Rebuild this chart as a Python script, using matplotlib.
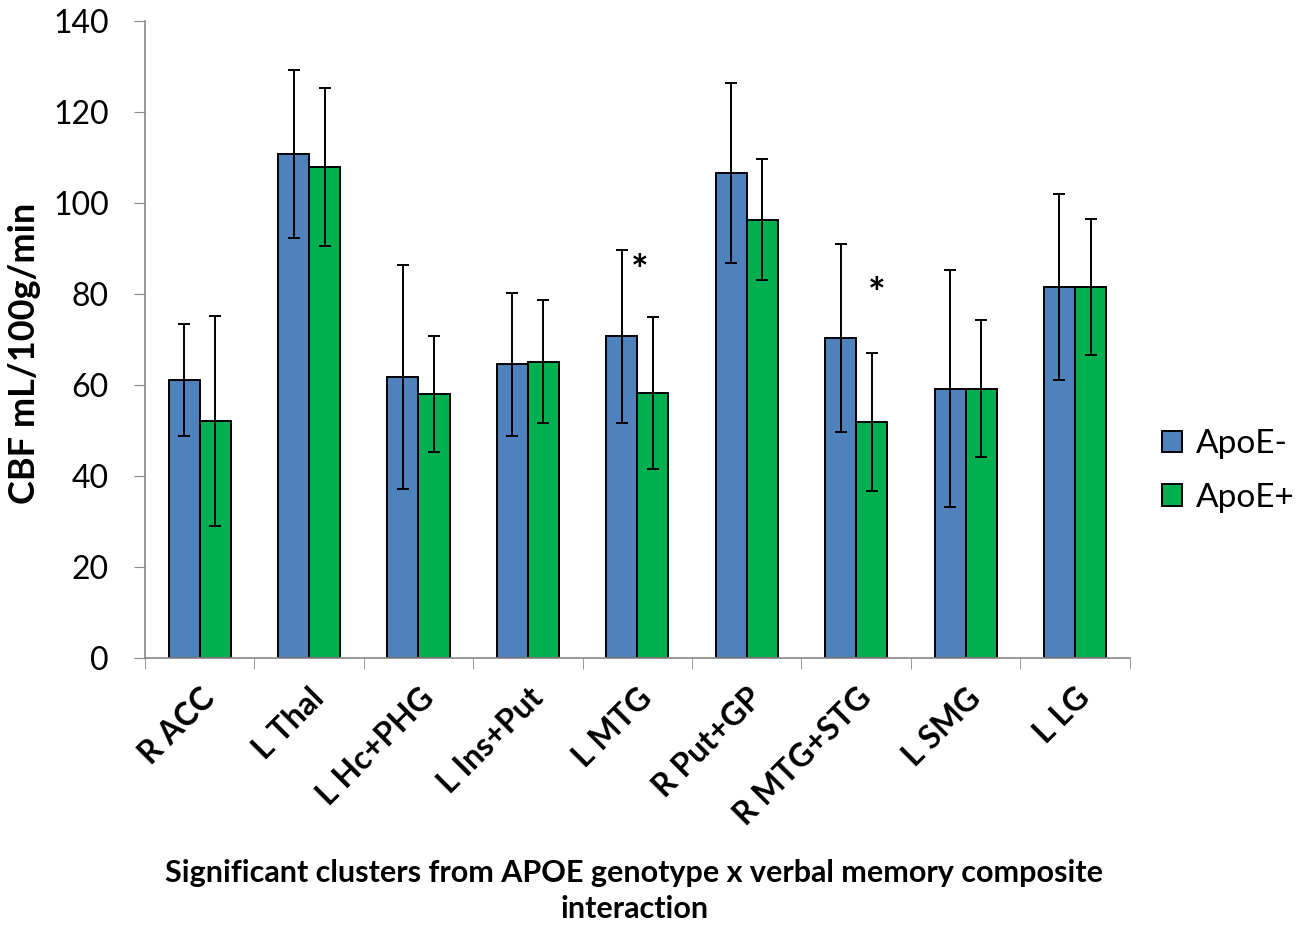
import numpy as np
import matplotlib
matplotlib.use('Agg')
import matplotlib.pyplot as plt

plt.rcParams['font.family'] = ['Lato', 'DejaVu Sans']

regions = ['R ACC', 'L Thal', 'L Hc+PHG', 'L Ins+Put', 'L MTG',
           'R Put+GP', 'R MTG+STG', 'L SMG', 'L LG']
apoe_neg = [61.1, 110.8, 61.7, 64.5, 70.7, 106.5, 70.3, 59.2, 81.5]
apoe_neg_err = [12.4, 18.4, 24.6, 15.8, 19.0, 19.8, 20.7, 26.0, 20.4]
apoe_pos = [52.1, 107.9, 58.0, 65.1, 58.3, 96.3, 51.8, 59.2, 81.5]
apoe_pos_err = [23.0, 17.3, 12.8, 13.5, 16.7, 13.3, 15.2, 15.0, 15.0]
# significance marks: (category index, x offset, y value)
stars = [(4, 0.02, 84.5), (6, 0.19, 79.5)]

fig = plt.figure(figsize=(13, 9.3), dpi=100)
ax = fig.add_axes([0.1115, 0.2925, 0.7575, 0.685])

x = np.arange(len(regions))
w = 0.284
ekw = dict(elinewidth=1.4, capthick=1.4, ecolor='black')
ax.bar(x - w/2, apoe_neg, w, yerr=apoe_neg_err, capsize=4, error_kw=ekw,
       color='#4F81BD', edgecolor='black', linewidth=1.4, label='ApoE-')
ax.bar(x + w/2, apoe_pos, w, yerr=apoe_pos_err, capsize=4, error_kw=ekw,
       color='#00B050', edgecolor='black', linewidth=1.4, label='ApoE+')

for i, dx, yv in stars:
    ax.text(i + dx, yv, '*', ha='center', va='center', fontsize=30, fontweight='bold')

ax.set_xlim(-0.5, len(regions) - 0.5)
ax.set_ylim(0, 140)
ax.set_yticks(np.arange(0, 141, 20))
ax.tick_params(axis='y', labelsize=23, length=8, color='#888888', pad=18)
ax.set_xticks(x)
ax.set_xticklabels(regions, rotation=45, ha='right', rotation_mode='anchor',
                   fontsize=23, fontweight='bold')
ax.tick_params(axis='x', which='major', length=0, pad=18)
ax.set_xticks(np.arange(-0.5, len(regions)), minor=True)
ax.tick_params(axis='x', which='minor', length=8, color='#888888')

for s in ['top', 'right']:
    ax.spines[s].set_visible(False)
for s in ['left', 'bottom']:
    ax.spines[s].set_color('#888888')
    ax.spines[s].set_linewidth(1.2)

fig.text(25/1300, 0.62, 'CBF mL/100g/min', rotation=90, ha='center', va='center',
         fontsize=26, fontweight='bold')
fig.text(0.488, 0.042, 'Significant clusters from APOE genotype x verbal memory composite\ninteraction',
         ha='center', va='center', fontsize=22, fontweight='bold', linespacing=1.38)

fig.legend(loc='center left', bbox_to_anchor=(0.894, 0.4935), frameon=False,
           fontsize=24, handlelength=0.6, handleheight=0.6, labelspacing=0.7,
           handletextpad=0.4, borderpad=0, borderaxespad=0)

plt.savefig('out.png', dpi=100)
